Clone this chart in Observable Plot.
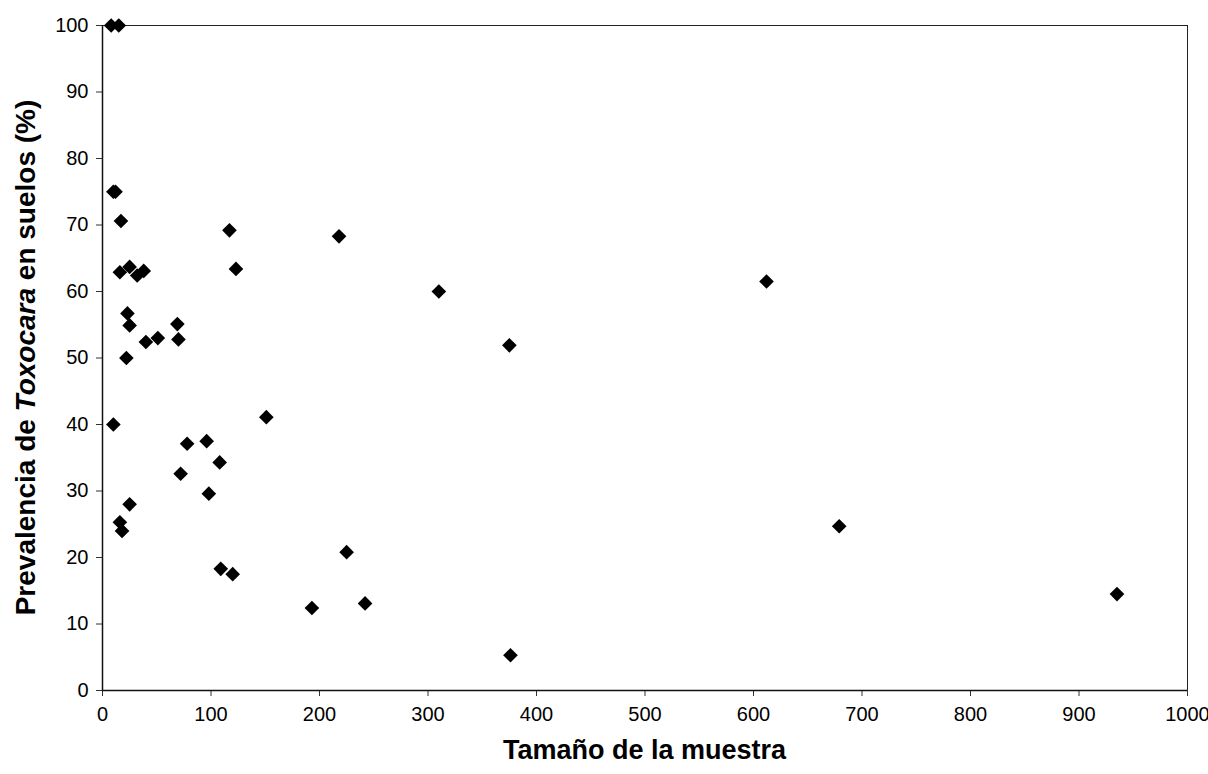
<!DOCTYPE html>
<html>
<head>
<meta charset="utf-8">
<script src="https://cdn.jsdelivr.net/npm/d3@7"></script>
<script src="https://cdn.jsdelivr.net/npm/@observablehq/plot@0.6"></script>
<style>
  html, body { margin: 0; padding: 0; background: #fff; }
  #chart { width: 1208px; height: 774px; }
</style>
</head>
<body>
<div id="chart"></div>
<script>
// Sample size (x) and prevalence of Toxocara in soils (%) (y)
const tamano = [8, 15, 10, 12, 17, 117, 16, 25, 32, 38, 123, 23, 25, 40, 51, 69, 70, 22, 10, 78, 96, 108, 72, 98, 25, 16, 18, 109, 120, 218, 310, 375, 151, 225, 193, 242, 376, 612, 679, 935];
const prevalencia = [100, 100, 75, 75, 70.6, 69.2, 62.9, 63.7, 62.4, 63.1, 63.4, 56.7, 54.9, 52.4, 53.0, 55.1, 52.8, 50.0, 40.0, 37.1, 37.5, 34.3, 32.6, 29.6, 28.0, 25.3, 24.0, 18.3, 17.5, 68.3, 60.0, 51.9, 41.1, 20.8, 12.4, 13.1, 5.3, 61.5, 24.7, 14.5];
const xTicks = [0, 100, 200, 300, 400, 500, 600, 700, 800, 900, 1000];
const yTicks = [0, 10, 20, 30, 40, 50, 60, 70, 80, 90, 100];
const xTitle = "Tamaño de la muestra";
const yTitleParts = [
  {text: "Prevalencia de ", italic: false},
  {text: "Toxocara", italic: true},
  {text: " en suelos (%)", italic: false}
];

const data = tamano.map((t, i) => ({x: t, y: prevalencia[i]}));

const chart = Plot.plot({
  width: 1208,
  height: 774,
  marginLeft: 102,
  marginRight: 21,
  marginTop: 25,
  marginBottom: 84,
  style: {fontFamily: "'Liberation Sans', Arial, sans-serif", fontSize: "20px", color: "#000", background: "#fff"},
  x: {domain: [0, 1000]},
  y: {domain: [0, 100]},
  marks: [
    Plot.frame({stroke: "#222", strokeWidth: 1}),
    Plot.axisX({ticks: xTicks, tickFormat: d => String(d), tickSize: 6, tickPadding: 10, label: null, fontSize: 20, stroke: "#333"}),
    Plot.axisY({ticks: yTicks, tickFormat: d => String(d), tickSize: 6, tickPadding: 8, label: null, fontSize: 20, stroke: "#333"}),
    Plot.ruleX([0], {stroke: "#111", strokeWidth: 1.5}),
    Plot.ruleY([0], {stroke: "#111", strokeWidth: 1.5}),
    Plot.dot(data, {x: "x", y: "y", symbol: "diamond2", r: 6.6, fill: "#000", stroke: "none"})
  ]
});

document.getElementById("chart").appendChild(chart);

// Axis titles (real text), positioned from the chart's own scales
const sx = chart.scale("x"), sy = chart.scale("y");
const svg = d3.select(chart);
const cx = (sx.apply(0) + sx.apply(1000)) / 2;
const cy = (sy.apply(0) + sy.apply(100)) / 2;

svg.append("text")
  .attr("x", cx)
  .attr("y", 759)
  .attr("text-anchor", "middle")
  .attr("font-family", "'Liberation Sans', Arial, sans-serif")
  .attr("font-weight", "bold")
  .attr("font-size", 27)
  .attr("fill", "#000")
  .text(xTitle);

const yt = svg.append("text")
  .attr("transform", `translate(35,${cy}) rotate(-90)`)
  .attr("text-anchor", "middle")
  .attr("font-family", "'Liberation Sans', Arial, sans-serif")
  .attr("font-weight", "bold")
  .attr("font-size", 28)
  .attr("fill", "#000");
yTitleParts.forEach(p => {
  yt.append("tspan").attr("font-style", p.italic ? "italic" : "normal").text(p.text);
});
</script>
</body>
</html>
